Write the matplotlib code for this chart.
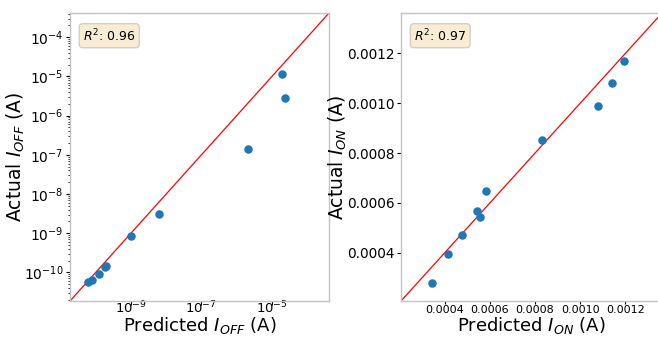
import numpy as np
import matplotlib
matplotlib.use('Agg')
import matplotlib.pyplot as plt

# I_OFF: predicted vs actual (A)
pred_off = [5.94e-11, 7.76e-11, 1.20e-10, 1.86e-10, 1.90e-10, 9.77e-10, 6.17e-9, 2.04e-6, 1.91e-5, 2.29e-5]
act_off = [5.79e-11, 6.31e-11, 8.91e-11, 1.40e-10, 1.45e-10, 8.59e-10, 3.02e-9, 1.38e-7, 1.17e-5, 2.88e-6]
r2_off = 0.96

# I_ON: predicted vs actual (A)
pred_on = [0.000345, 0.000412, 0.000477, 0.000542, 0.000556, 0.000581, 0.000832, 0.001079, 0.001142, 0.001194]
act_on = [0.000279, 0.000393, 0.000470, 0.000566, 0.000543, 0.000646, 0.000851, 0.000987, 0.001083, 0.001169]
r2_on = 0.97

off_lims = [10**-10.73, 10**-3.38]
on_lims = [0.000206, 0.001362]
on_ticks = [0.0004, 0.0006, 0.0008, 0.0010, 0.0012]
on_ticklabels = ['0.0004', '0.0006', '0.0008', '0.0010', '0.0012']

W, H = 658, 337
fig = plt.figure(figsize=(W / 100, H / 100), dpi=100)
ax1 = fig.add_axes([70 / W, 36 / H, 259 / W, 288 / H])
ax2 = fig.add_axes([401 / W, 36 / H, 261 / W, 288 / H])

box = dict(boxstyle='round', facecolor='wheat', edgecolor='#b5b0a6', alpha=0.55)

def style(ax):
    for s in ax.spines.values():
        s.set_color('#c4c4c4')
        s.set_linewidth(1.0)
    ax.tick_params(which='major', length=3, pad=1.5)
    ax.tick_params(which='minor', length=1.8)

# Left: I_OFF on log axes
ax1.set_xscale('log')
ax1.set_yscale('log')
ax1.plot(off_lims, off_lims, 'r-', linewidth=0.9)
ax1.scatter(pred_off, act_off, s=26, color='tab:blue', zorder=3)
ax1.set_xlim(off_lims)
ax1.set_ylim(off_lims)
ax1.set_xticks([1e-9, 1e-7, 1e-5])
ax1.set_yticks([1e-10, 1e-9, 1e-8, 1e-7, 1e-6, 1e-5, 1e-4])
style(ax1)
ax1.tick_params(axis='both', which='major', labelsize=10)
ax1.tick_params(axis='x', which='major', labelsize=9.5, pad=-4.2)
ax1.set_xlabel('Predicted $I_{OFF}$ (A)', fontsize=13)
ax1.set_ylabel('Actual $I_{OFF}$ (A)', fontsize=13.5)
ax1.xaxis.set_label_coords(0.5, -0.05)
ax1.yaxis.set_label_coords(-0.165, 0.5)
ax1.text(0.05, 0.95, f'$R^2$: {r2_off:.2f}', transform=ax1.transAxes,
         fontsize=9, va='top', bbox=box)

# Right: I_ON on linear axes
ax2.plot(on_lims, on_lims, 'r-', linewidth=0.9)
ax2.scatter(pred_on, act_on, s=26, color='tab:blue', zorder=3)
ax2.set_xlim(on_lims)
ax2.set_ylim(on_lims)
ax2.set_xticks(on_ticks)
ax2.set_yticks(on_ticks)
ax2.set_xticklabels(on_ticklabels)
ax2.set_yticklabels(on_ticklabels)
style(ax2)
ax2.tick_params(axis='y', labelsize=9.8)
ax2.tick_params(axis='x', labelsize=8, length=2.5, pad=0.3)
ax2.set_xlabel('Predicted $I_{ON}$ (A)', fontsize=13)
ax2.set_ylabel('Actual $I_{ON}$ (A)', fontsize=13.5)
ax2.xaxis.set_label_coords(0.5, -0.05)
ax2.yaxis.set_label_coords(-0.2, 0.5)
ax2.text(0.05, 0.95, f'$R^2$: {r2_on:.2f}', transform=ax2.transAxes,
         fontsize=9, va='top', bbox=box)

fig.savefig('out.png', dpi=100)
